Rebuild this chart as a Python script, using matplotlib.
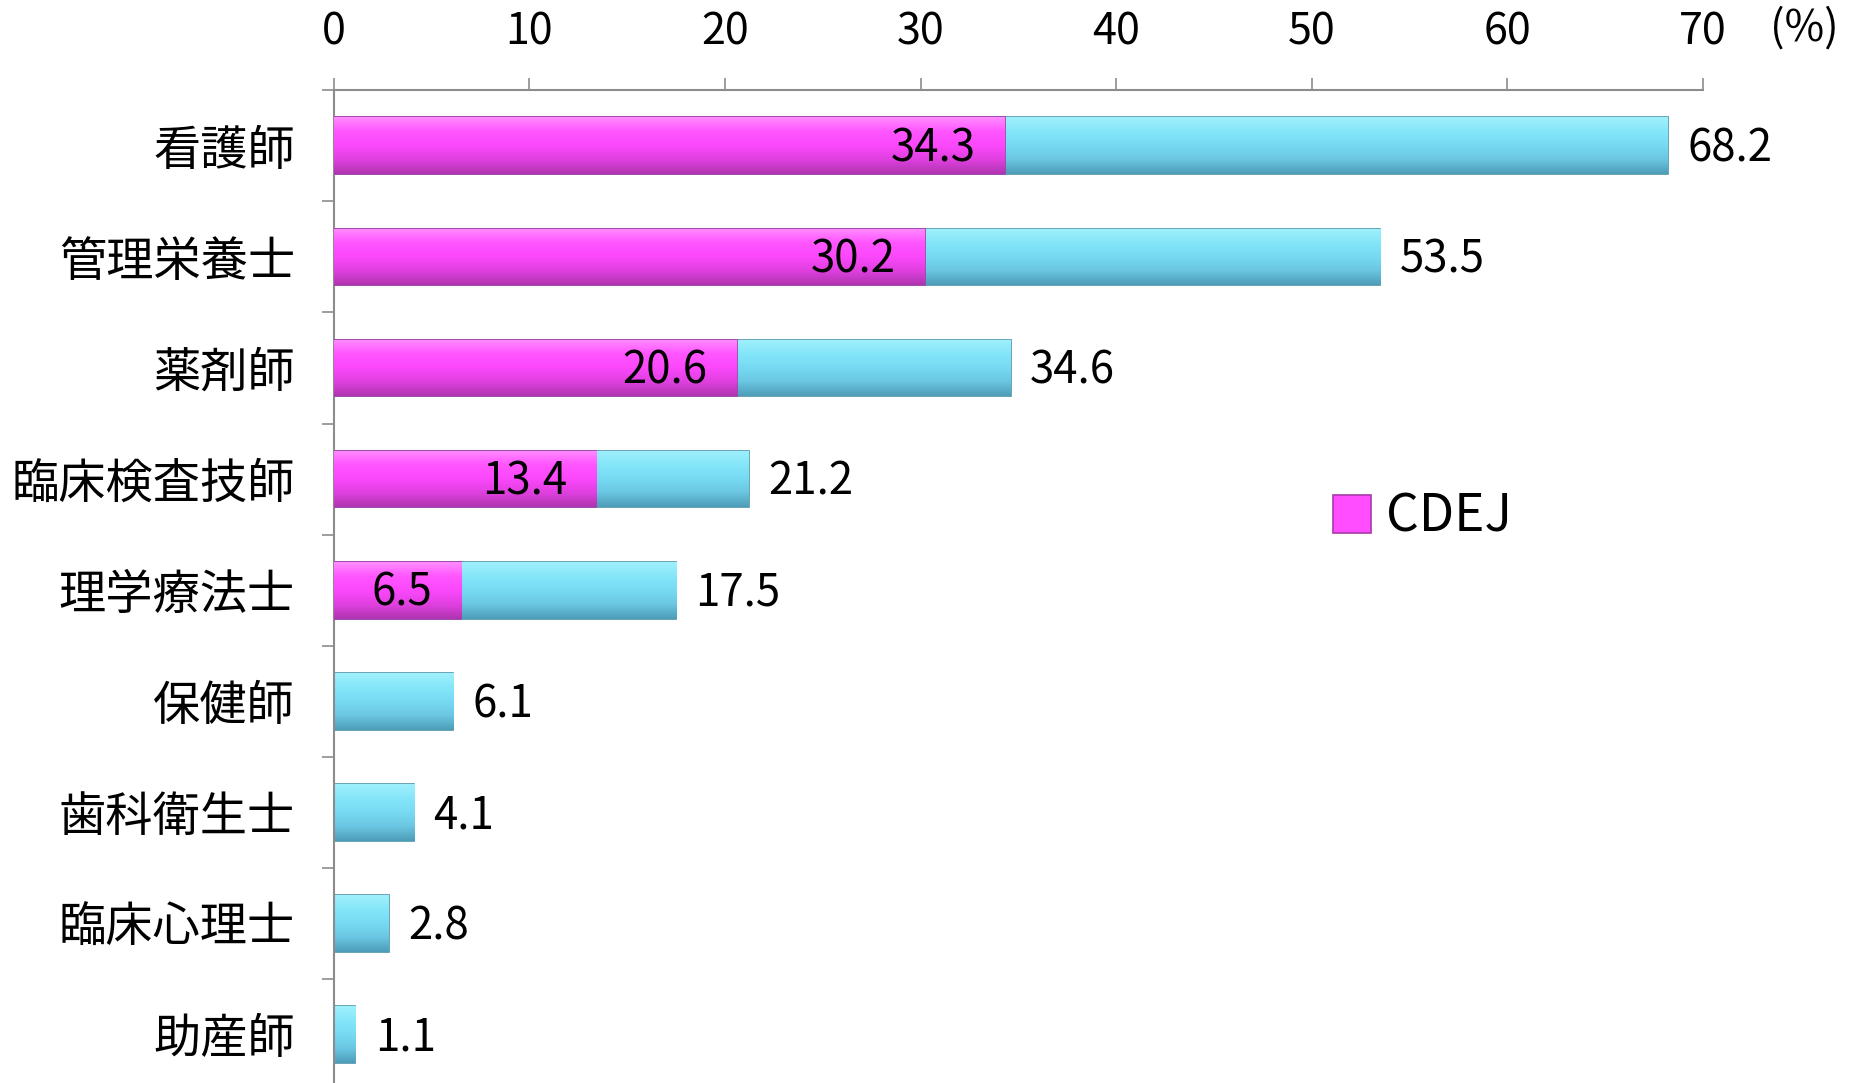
import matplotlib
matplotlib.use("Agg")
import matplotlib.pyplot as plt
import numpy as np
from matplotlib.colors import LinearSegmentedColormap

plt.rcParams['font.family'] = ['Noto Sans CJK JP', 'DejaVu Sans']

categories = ["看護師", "管理栄養士", "薬剤師", "臨床検査技師", "理学療法士",
              "保健師", "歯科衛生士", "臨床心理士", "助産師"]
totals = [68.2, 53.5, 34.6, 21.2, 17.5, 6.1, 4.1, 2.8, 1.1]
cdej = [34.3, 30.2, 20.6, 13.4, 6.5, None, None, None, None]
xticks = [0, 10, 20, 30, 40, 50, 60, 70]
legend_label = "CDEJ"

fig = plt.figure(figsize=(18.53, 10.83), dpi=100)
ax = fig.add_axes([0.1802, -0.0066, 0.9190 - 0.1802, 0.9167 + 0.0066])

n = len(categories)
y = np.arange(n)
bh = 0.51

cyan_cmap = LinearSegmentedColormap.from_list(
    "cy", ["#A0F0FC", "#84E6F9", "#78DAF2", "#6AC6E2", "#4E9DB8"])
mag_cmap = LinearSegmentedColormap.from_list(
    "mg", ["#FF8CFF", "#FF55FF", "#FB48FB", "#E040E0", "#B035B0"])

def gradient_fill(patch, cmap):
    x0, y0 = patch.get_x(), patch.get_y()
    w, h = patch.get_width(), patch.get_height()
    grad = np.linspace(0, 1, 64).reshape(-1, 1)
    im = ax.imshow(grad, cmap=cmap, aspect='auto', origin='upper',
                   extent=[x0, x0 + w, y0 + h, y0], zorder=patch.get_zorder(),
                   interpolation='bilinear')
    im.set_clip_path(patch)

cyan_bars = ax.barh(y, totals, height=bh, color="#7FDDF5",
                    edgecolor="#4E94AA", linewidth=1.2, zorder=2)
for p in cyan_bars:
    gradient_fill(p, cyan_cmap)

mag_vals = [v if v is not None else 0 for v in cdej]
mag_bars = ax.barh(y, mag_vals, height=bh, color="#FF4DFF",
                   edgecolor="#A93AA9", linewidth=1.2, zorder=3,
                   label=legend_label)
for p, v in zip(mag_bars, cdej):
    if v is None:
        p.set_visible(False)
    else:
        gradient_fill(p, mag_cmap)

# labels
for yi, t in zip(y, totals):
    ax.annotate(f"{t:.1f}", xy=(t, yi), xytext=(14, -2), textcoords="offset points",
                ha="left", va="center", fontsize=31.5, color="black", zorder=5)
for yi, v in zip(y, cdej):
    if v is not None:
        ax.annotate(f"{v:.1f}", xy=(v, yi), xytext=(-21, -2), textcoords="offset points",
                    ha="right", va="center", fontsize=31.5, color="black", zorder=5)

ax.set_xlim(0, 70)
ax.set_ylim(n - 0.5, -0.5)
ax.xaxis.tick_top()
ax.set_xticks(xticks)
ax.set_xticklabels([str(t) for t in xticks], fontsize=31)
ax.tick_params(axis='x', which='major', direction='out', length=9, width=1.2,
               color="#8C8C8C", pad=17)
ax.set_yticks(y)
ax.set_yticklabels(categories, fontsize=34)
ax.tick_params(axis='y', which='major', length=0, pad=28)
ax.set_yticks(np.arange(-0.5, n, 1.0), minor=True)
ax.tick_params(axis='y', which='minor', direction='out', length=9, width=1.2,
               color="#8C8C8C")

for s in ["right", "bottom"]:
    ax.spines[s].set_visible(False)
for s in ["left", "top"]:
    ax.spines[s].set_color("#8C8C8C")
    ax.spines[s].set_linewidth(1.5)

fig.text(0.974, 0.974, "(%)", fontsize=31, ha="center", va="center")

leg = ax.legend(handles=[mag_bars], labels=[legend_label], loc="center",
                bbox_to_anchor=(0.795, 0.573), frameon=False, fontsize=37,
                handlelength=0.75, handleheight=0.75, handletextpad=0.28)

fig.savefig("out.png", dpi=100)
